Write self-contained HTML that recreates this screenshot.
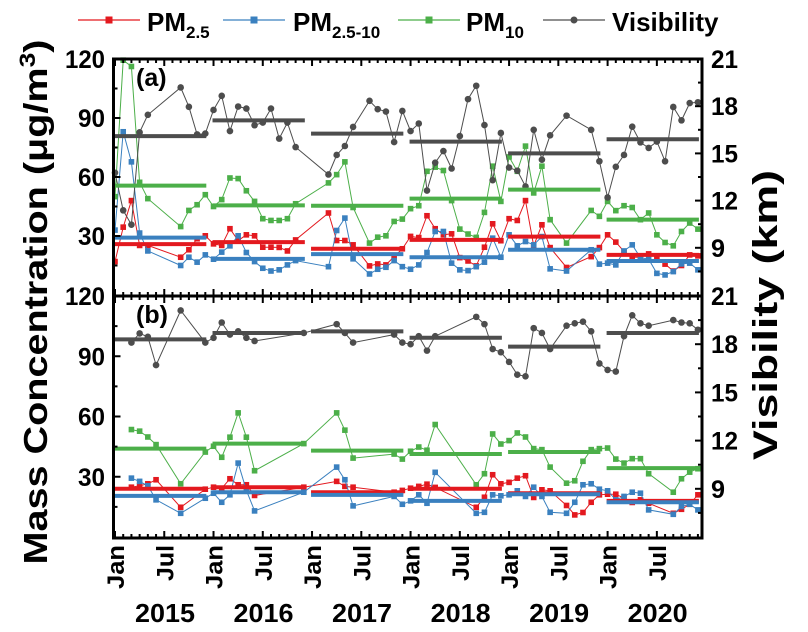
<!DOCTYPE html>
<html><head><meta charset="utf-8">
<style>
html,body{margin:0;padding:0;background:#fff;}
svg{display:block;font-family:"Liberation Sans",Arial,sans-serif;font-weight:bold;}
</style></head>
<body>
<svg id="chart" width="808" height="632" viewBox="0 0 808 632" xmlns="http://www.w3.org/2000/svg">
  <g id="legend">
    <g>
      <line x1="78" y1="20" x2="140" y2="20" stroke="#e3191f" stroke-width="1.2"/>
      <rect x="105.5" y="16.5" width="7" height="7" fill="#e3191f"/>
      <text x="147" y="31" font-size="26">PM<tspan font-size="17" dy="7">2.5</tspan></text>
    </g>
    <g>
      <line x1="223" y1="20" x2="285" y2="20" stroke="#3a80bf" stroke-width="1.2"/>
      <rect x="250.5" y="16.5" width="7" height="7" fill="#3a80bf"/>
      <text x="293" y="31" font-size="26">PM<tspan font-size="17" dy="7">2.5-10</tspan></text>
    </g>
    <g>
      <line x1="398" y1="20" x2="460" y2="20" stroke="#4caf49" stroke-width="1.2"/>
      <rect x="425.5" y="16.5" width="7" height="7" fill="#4caf49"/>
      <text x="466" y="31" font-size="26">PM<tspan font-size="17" dy="7">10</tspan></text>
    </g>
    <g>
      <line x1="543" y1="20" x2="605" y2="20" stroke="#4d4d4d" stroke-width="1.2"/>
      <circle cx="574" cy="20" r="3.5" fill="#4d4d4d"/>
      <text x="612" y="31" font-size="26">Visibility</text>
    </g>
  </g>
  <text transform="translate(47,302) rotate(-90)" text-anchor="middle" font-size="33" textLength="525" lengthAdjust="spacingAndGlyphs">Mass Concentration (μg/m<tspan font-size="22" dy="-12">3</tspan><tspan dy="12">)</tspan></text>
  <text transform="translate(777,315) rotate(-90)" text-anchor="middle" font-size="34" textLength="290" lengthAdjust="spacingAndGlyphs">Visibility (km)</text>
  <g id="plots"></g>
</svg>
<script>
var N = null;
var months = 72;
var years = ["2015","2016","2017","2018","2019","2020"];
var leftTicks = [30,60,90,120];
var rightTicks = [9,12,15,18,21];

var visA = [13.77,11.38,10.47,16.34,17.45,N,N,N,19.19,17.96,16.21,16.26,
 17.76,18.66,16.42,17.98,17.85,16.79,16.96,17.85,15.94,16.96,15.4,N,
 N,N,13.66,14.9,15.47,16.68,N,18.34,17.81,17.66,15.72,17.7,
 16.42,16.9,12.64,14.41,15.15,14.04,16.1,18.45,19.3,16.8,13.3,16.3,
 14.1,13.9,12.9,16.5,14.6,16.15,N,17.4,N,N,16.5,14.5,
 12.2,14.15,14.9,16.7,15.7,15.35,15.75,14.5,17.95,17.1,18.2,18.25];
var pm10A = [50,119.4,116.2,57.3,49,N,N,N,34.8,43,45.9,51,
 45,48.5,59.5,59.2,53,47.6,38.8,37.9,37.9,38.8,46.4,N,
 N,N,57,61.2,67.7,44.5,N,26.4,29.4,30.1,37.4,38.6,
 43.9,45.4,62.9,65,63.3,48,33.5,31,29.3,42,65.5,47.6,
 70.2,62.9,75.7,51.9,65.5,38.3,N,26.4,N,N,43,40,
 47.6,42.9,45.4,44.5,38.3,41.7,30.6,26.7,25,32.3,36.6,33.5];
var pm25A = [17,34.5,48,25.2,25.2,N,N,N,19.2,23,28.6,30.1,
 26,25.2,33.7,27.7,30.6,30.1,24.3,24.3,24.2,22.4,28,N,
 N,N,41.7,27.7,27.7,25.5,N,14.8,15.8,15.3,19.5,23.5,
 29.8,29.2,40.3,33.7,30.6,31.1,19,17.3,14.8,24.3,36.2,27.6,
 38.8,37.9,48,25,35.7,24.1,N,14,N,N,19.5,24.1,
 30.6,26.9,22.1,19.2,19.2,20.9,19.2,15.7,12.2,15,20.4,19.9];
var pmcA = [33,83,67.7,31.5,22.4,N,N,N,15,19.2,16.7,20.4,
 18.2,21.8,25,30.1,21.6,17,13.6,12.2,12.8,15.3,17.5,N,
 N,N,14.4,32.8,39.1,18.4,N,10.7,13.1,14.1,17.5,14.4,
 13.1,15.3,21.6,32.3,32.3,16.2,12.8,12.4,14.4,16.7,28.9,19.2,
 30.6,25,27.2,25.5,29.7,13.3,N,12.2,N,N,23,15.7,
 16.2,15.3,22.4,25.5,19,18.2,11,10.2,11.9,15.8,16.2,12.8];

var visB = [N,N,18.1,18.67,18.46,16.7,N,N,20.1,N,N,18.1,
 18.4,19.35,18.6,18.8,18.4,18.2,N,N,N,N,N,18.7,
 N,N,N,19.25,18.7,18.1,N,N,N,N,18.6,18.1,
 18,18.5,17.6,18.5,N,N,N,N,19.7,19.25,17.7,17.5,
 16.9,16.1,16.0,19.0,18.7,17.7,N,19.15,19.3,19.4,18.8,16.8,
 16.4,16.3,18.5,19.8,19.3,19.15,N,N,19.5,19.35,19.3,18.9];
var pm10B = [N,N,53.5,52.7,49.8,46,N,N,26.5,N,N,42.3,
 45.2,39.7,49.7,61.8,49.7,33,N,N,N,N,N,46.5,
 N,N,N,61.8,53.2,39.3,N,N,N,N,41.3,38.8,
 42.7,44.8,43.2,56,N,N,N,N,26,31.5,51.3,46.3,
 48,51.8,49.8,44,43.5,34.8,N,26.8,28,37.7,43.5,44,
 44.3,38.8,36.8,39,39,31.5,N,N,22.3,29,32.3,34];
var pm25B = [N,N,24.8,25.5,26.5,28.5,N,N,14.8,N,N,23.8,
 24.8,24.2,29,26,26,20.7,N,N,N,N,N,24.8,
 N,N,N,27.7,25.2,24.8,N,N,N,N,22.3,23.2,
 24.3,25.2,26.3,24.7,N,N,N,N,14.8,19.8,31,26.5,
 27.2,29.3,30.5,19.7,23.5,23,N,15.7,11,12.2,17.3,21,
 21.3,21.3,19.3,17.2,18.5,16.8,N,N,11.8,13.8,16.3,21];
var pmcB = [N,N,29.3,27.7,25.5,18.5,N,N,11.8,N,N,19.3,
 21.8,17.3,21,36.8,23.2,13,N,N,N,N,N,22.3,
 N,N,N,34.8,28.5,15.5,N,N,N,N,20.2,16.3,
 18,21,16.8,32.2,N,N,N,N,11.8,12.3,21,20.5,
 21,23,20.2,24.8,20.2,12.3,N,11.8,17.3,26,26.5,23.8,
 23,18.5,20.2,22.3,21.8,13.5,N,N,11.3,15.2,16.3,13.5];

var meanVisA = [16.1,17.1,16.26,15.75,15.0,15.9];
var meanPm10A = [55.6,45.6,45.4,49,53.6,38.3];
var meanPm25A = [25.9,26.9,23.5,28,29.7,20.4];
var meanPmcA = [29.2,18.4,20.8,19.2,23,17.3];
var meanVisB = [18.3,18.7,18.8,18.4,17.85,18.7];
var meanPm10B = [44,46.5,43,41.3,42.3,34.3];
var meanPm25B = [24,24.8,22.3,24,21.8,18];
var meanPmcB = [20.5,22.3,21,18,21.3,17.3];

var NS = "http://www.w3.org/2000/svg";
var COL = {pm25:"#e3191f", pmc:"#3a80bf", pm10:"#4caf49", vis:"#4d4d4d"};
var X0 = 113.5, X1 = 702;
function xm(m){ return 115 + m * 8.21; }
function mk(tag, attrs, parent){
  var e = document.createElementNS(NS, tag);
  for (var k in attrs) e.setAttribute(k, attrs[k]);
  parent.appendChild(e); return e;
}
var root = document.getElementById("plots");

function panel(name, top, bot, label, series, means){
  var g = mk("g", {}, root);
  
  
  var yl = function(v){ return bot - 1 - v * (bot - 1 - top) / 120; };
  var yr = function(v){ return bot - 1 - (v - 6) * (bot - 1 - top) / 15; };
  series.forEach(function(s){
    var yf = s.right ? yr : yl;
    var sg = mk("g", {}, g);
    
    
    var pts = [];
    s.data.forEach(function(v, i){ if (v !== null) pts.push([xm(i), yf(v)]); });
    var pl = mk("polyline", {points: pts.map(function(p){return p[0].toFixed(1)+","+p[1].toFixed(1);}).join(" "), fill:"none", stroke:COL[s.key], "stroke-width":"1"}, sg);
    
    
    pts.forEach(function(p){
      var e;
      if (s.key === "vis") e = mk("circle", {cx:p[0], cy:p[1], r:3.3, fill:COL.vis}, sg);
      else e = mk("rect", {x:p[0]-2.8, y:p[1]-2.8, width:5.6, height:5.6, fill:COL[s.key]}, sg);
      
      
    });
  });
  means.forEach(function(s){
    var yf = s.right ? yr : yl;
    s.data.forEach(function(v, y){
      var l = mk("line", {x1:xm(12*y)-1, x2:xm(12*y+11)+1, y1:yf(v), y2:yf(v), stroke:COL[s.key], "stroke-width":"4"}, g);
      
      
    });
  });
  var fr = mk("rect", {x:X0, y:top, width:X1-X0, height:bot-top, fill:"none", stroke:"#000", "stroke-width":"3"}, g);
  
  
  var tg = mk("g", {stroke:"#000", "stroke-width":"2"}, g);
  
  
  for (var m = 0; m < months; m++){
    var major = (m % 6 === 0);
    var len = major ? 7 : 4;
    mk("line", {x1:xm(m), x2:xm(m), y1:top, y2:top+len}, tg);
    mk("line", {x1:xm(m), x2:xm(m), y1:bot, y2:bot-len}, tg);
  }
  for (var v = 15; v < 120; v += 15){
    var len2 = (v % 30 === 0) ? 7 : 4;
    mk("line", {x1:X0, x2:X0+len2, y1:yl(v), y2:yl(v)}, tg);
  }
  for (var r = 7.5; r < 21; r += 1.5){
    var len3 = (Math.abs(r % 3) < 0.01) ? 7 : 4;
    mk("line", {x1:X1, x2:X1-len3, y1:yr(r), y2:yr(r)}, tg);
  }
  leftTicks.forEach(function(v){
    var t = mk("text", {x:105, y:yl(v)+9, "text-anchor":"end", "font-size":"25", textLength:(v>=100?40:27), lengthAdjust:"spacingAndGlyphs"}, g);
    t.textContent = v;
    
    
  });
  rightTicks.forEach(function(v){
    var t = mk("text", {x:711, y:yr(v)+9, "text-anchor":"start", "font-size":"25", textLength:(v>=10?27:14), lengthAdjust:"spacingAndGlyphs"}, g);
    t.textContent = v;
    
    
  });
  var pl2 = mk("text", {x:136, y:top+27, "font-size":"25"}, g);
  pl2.textContent = label;
  
  
}

panel("a", 59, 296, "(a)",
  [{key:"pm25",data:pm25A},{key:"pmc",data:pmcA},{key:"pm10",data:pm10A},{key:"vis",data:visA,right:true}],
  [{key:"pm25",data:meanPm25A},{key:"pmc",data:meanPmcA},{key:"pm10",data:meanPm10A},{key:"vis",data:meanVisA,right:true}]);
panel("b", 296, 538, "(b)",
  [{key:"pm25",data:pm25B},{key:"pmc",data:pmcB},{key:"pm10",data:pm10B},{key:"vis",data:visB,right:true}],
  [{key:"pm25",data:meanPm25B},{key:"pmc",data:meanPmcB},{key:"pm10",data:meanPm10B},{key:"vis",data:meanVisB,right:true}]);

var xg = mk("g", {}, document.getElementById("chart"));


for (var y = 0; y < 6; y++){
  [0,6].forEach(function(o){
    var x = xm(12*y+o) + 9;
    var isJan = o === 0;
    var t = mk("text", {transform:"translate("+x.toFixed(1)+",545) rotate(-90)", "text-anchor":"end", "font-size":"24", textLength:(isJan?44:36), lengthAdjust:"spacingAndGlyphs"}, xg);
    t.textContent = isJan ? "Jan" : "Jul";
    
    
  });
  var yt = mk("text", {x:(xm(12*y)+50).toFixed(1), y:622, "text-anchor":"middle", "font-size":"26", textLength:"60", lengthAdjust:"spacingAndGlyphs"}, xg);
  yt.textContent = years[y];
  
  
}
</script>
</body></html>
